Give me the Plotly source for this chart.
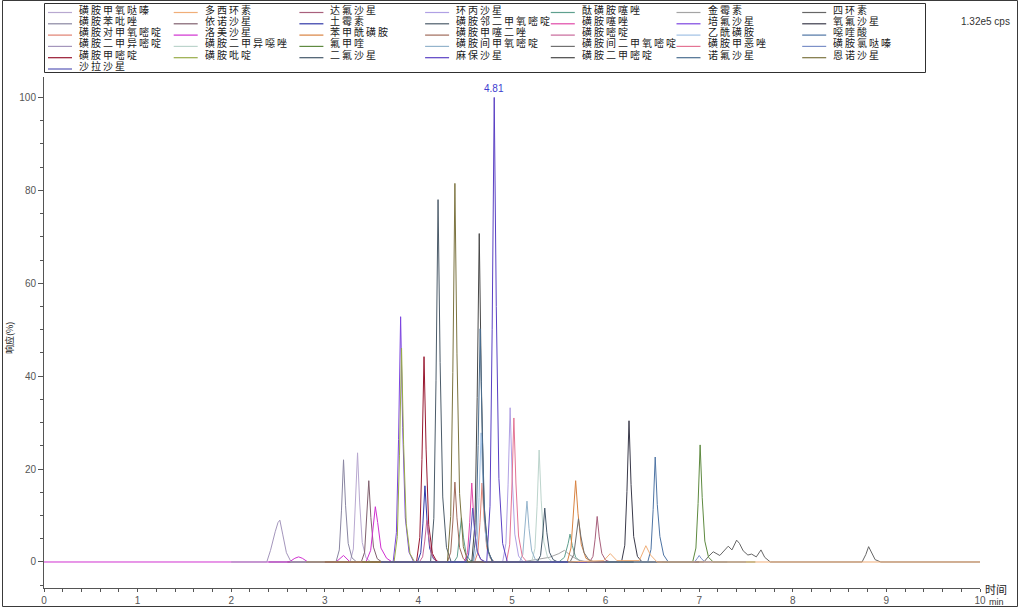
import plotly.graph_objects as go

# ---------------- data ----------------
names = ["磺胺甲氧哒嗪", "多西环素", "达氟沙星", "环丙沙星", "酞磺胺噻唑", "金霉素", "四环素",
         "磺胺苯吡唑", "依诺沙星", "土霉素", "磺胺邻二甲氧嘧啶", "磺胺噻唑", "培氟沙星", "氧氟沙星",
         "磺胺对甲氧嘧啶", "洛美沙星", "苯甲酰磺胺", "磺胺甲噻二唑", "磺胺嘧啶", "乙酰磺胺", "噁喹酸",
         "磺胺二甲异嘧啶", "磺胺二甲异噁唑", "氟甲喹", "磺胺间甲氧嘧啶", "磺胺间二甲氧嘧啶", "磺胺甲恶唑", "磺胺氯哒嗪",
         "磺胺甲嘧啶", "磺胺吡啶", "二氟沙星", "麻保沙星", "磺胺二甲嘧啶", "诺氟沙星", "恩诺沙星",
         "沙拉沙星"]

colors = ["#b8a8d0", "#f0ae78", "#a8607c", "#b0a0e4", "#5fa08f", "#a4a4a4", "#666666",
          "#8a86a2", "#80606e", "#3038a8", "#4c5c6a", "#e048a8", "#7c44e0", "#3a3a4a",
          "#e08070", "#d030d0", "#d88240", "#a06a5a", "#c8689a", "#a0c0e4", "#4e74a4",
          "#a496bc", "#bcd4cc", "#5e8a40", "#94b4cc", "#707070", "#e47494", "#7c90c8",
          "#981830", "#98ac48", "#44586a", "#5a40c4", "#484848", "#4a6e90", "#7c7440",
          "#5858b8"]

t01 = [2.4, 3.27, 3.305, 3.328, 3.35, 3.372, 3.40, 3.44, 3.49, 4.6]
y01 = [0, 0, 2.8, 11.8, 23.5, 12.9, 4.2, 0.9, 0, 0]
t02 = [5.6, 5.98, 6.05, 6.12, 6.36, 6.43, 6.48, 6.55, 10]
y02 = [0, 0.3, 1.8, 0.3, 0.3, 3.5, 1.5, 0, 0]
t03 = [4.6, 5.83, 5.865, 5.888, 5.91, 5.932, 5.96, 6.0, 6.05, 7.0]
y03 = [0, 0, 1.2, 4.9, 9.8, 5.4, 1.8, 0.4, 0, 0]
t04 = [3.8, 4.90, 4.935, 4.958, 4.98, 5.002, 5.03, 5.07, 5.12, 6.2]
y04 = [0, 0, 4.0, 16.6, 33.2, 18.3, 6.0, 1.3, 0, 0]
t05 = [3.6, 4.38, 4.415, 4.438, 4.46, 4.482, 4.51, 4.55, 4.60, 5.50, 5.56, 5.60, 5.62, 5.645, 5.68, 5.74, 6.5]
y05 = [0, 0, 1.1, 4.8, 9.5, 5.2, 1.7, 0.4, 0, 0, 1.0, 4.0, 6.0, 3.5, 1.0, 0, 0]
t06 = [4.6, 5.1, 5.25, 5.4, 5.5, 5.56, 5.62, 5.7, 5.8, 6.5]
y06 = [0, 0, 0.5, 1.0, 1.8, 2.5, 1.5, 0.5, 0, 0]
t07 = [6.6, 7.05, 7.1, 7.15, 7.22, 7.27, 7.31, 7.35, 7.40, 7.43, 7.47, 7.52, 7.56, 7.61, 7.66, 7.70, 7.76,
       8.74, 8.78, 8.81, 8.84, 8.88, 8.94, 10]
y07 = [0, 0, 1.2, 2.2, 1.4, 2.6, 3.4, 2.6, 4.7, 4.0, 2.4, 1.5, 1.7, 1.1, 2.6, 1.0, 0,
       0, 1.6, 3.3, 2.0, 0.5, 0, 0]
t08 = [2.4, 3.12, 3.155, 3.178, 3.20, 3.222, 3.25, 3.29, 3.34, 4.4]
y08 = [0, 0, 2.6, 11.0, 22.0, 12.1, 4.0, 0.9, 0, 0]
t09 = [2.6, 3.39, 3.425, 3.448, 3.47, 3.492, 3.52, 3.56, 3.61, 4.6]
y09 = [0, 0, 2.1, 8.8, 17.5, 9.6, 3.2, 0.7, 0, 0]
t10 = [3.0, 3.99, 4.025, 4.048, 4.07, 4.092, 4.12, 4.16, 4.21, 5.2]
y10 = [0, 0, 2.0, 8.2, 16.4, 9.0, 3.0, 0.7, 0, 0]
t11 = [3.2, 4.13, 4.165, 4.188, 4.21, 4.232, 4.26, 4.30, 4.35, 5.3]
y11 = [0, 0, 9.4, 39.0, 78.0, 42.9, 14.0, 3.1, 0, 0]
t12 = [3.5, 4.49, 4.525, 4.548, 4.57, 4.592, 4.62, 4.66, 4.71, 5.6]
y12 = [0, 0, 2.0, 8.5, 17.0, 9.4, 3.1, 0.7, 0, 0]
t13 = [2.8, 3.73, 3.765, 3.788, 3.81, 3.832, 3.86, 3.90, 3.95, 4.9]
y13 = [0, 0, 6.3, 26.4, 52.8, 29.0, 9.5, 2.1, 0, 0]
t14 = [5.2, 6.17, 6.205, 6.228, 6.25, 6.272, 6.30, 6.34, 6.39, 7.0]
y14 = [0, 0, 3.6, 15.2, 30.4, 16.7, 5.5, 1.2, 0, 0]
t15 = [3.6, 4.60, 4.635, 4.658, 4.68, 4.702, 4.73, 4.77, 4.82, 5.7]
y15 = [0, 0, 2.0, 8.5, 17.0, 9.4, 3.1, 0.7, 0, 0]
t16 = [0, 2.62, 2.68, 2.72, 2.76, 2.82, 3.12, 3.20, 3.27, 3.44, 3.49, 3.52, 3.54, 3.565, 3.60, 3.66, 3.72, 4.4]
y16 = [0, 0, 0.8, 1.1, 0.8, 0, 0, 1.4, 0, 0, 2.5, 8.5, 11.9, 8.5, 3.0, 0.8, 0, 0]
t17 = [4.7, 5.59, 5.63, 5.655, 5.68, 5.705, 5.74, 5.79, 5.86, 6.6]
y17 = [0, 0, 3.0, 10.0, 17.5, 10.5, 3.8, 0.8, 0, 0]
t18 = [3.4, 4.31, 4.345, 4.368, 4.39, 4.412, 4.44, 4.48, 4.53, 5.4]
y18 = [0, 0, 2.1, 8.6, 17.2, 9.5, 3.1, 0.7, 0, 0]
t19 = [3.1, 4.01, 4.045, 4.068, 4.09, 4.112, 4.14, 4.18, 4.23, 5.1]
y19 = [0, 0, 1.1, 4.5, 9.0, 5.0, 1.6, 0.4, 0, 0]
t20 = [3.6, 4.59, 4.625, 4.648, 4.67, 4.692, 4.72, 4.76, 4.81, 5.7]
y20 = [0, 0, 3.3, 13.9, 27.8, 15.3, 5.0, 1.1, 0, 0]
t21 = [5.5, 6.45, 6.485, 6.508, 6.53, 6.552, 6.58, 6.62, 6.67, 7.3]
y21 = [0, 0, 2.7, 11.3, 22.6, 12.4, 5.5, 1.5, 0, 0]
t22 = [2.0, 2.38, 2.42, 2.44, 2.47, 2.50, 2.52, 2.55, 2.59, 2.64, 3.5]
y22 = [0, 0, 2.5, 4.3, 6.5, 8.5, 9.0, 6.0, 2.0, 0, 0]
t23 = [4.3, 5.21, 5.245, 5.268, 5.29, 5.312, 5.34, 5.38, 5.43, 6.3]
y23 = [0, 0, 2.9, 12.0, 24.1, 13.3, 4.3, 1.0, 0, 0]
t24 = [6.0, 6.93, 6.965, 6.988, 7.01, 7.032, 7.06, 7.10, 7.15, 7.6]
y24 = [0, 0, 3.0, 12.6, 25.2, 13.9, 4.5, 1.0, 0, 0]
t25 = [4.2, 5.08, 5.115, 5.138, 5.16, 5.182, 5.21, 5.25, 5.30, 6.2]
y25 = [0, 0, 1.6, 6.6, 13.1, 7.2, 2.4, 0.5, 0, 0]
t26 = [4.7, 5.62, 5.66, 5.685, 5.71, 5.735, 5.77, 5.82, 5.88, 6.6]
y26 = [0, 0, 1.6, 5.3, 9.3, 5.6, 2.0, 0.5, 0, 0]
t27 = [4.0, 4.94, 4.975, 4.998, 5.02, 5.042, 5.07, 5.11, 5.16, 6.0]
y27 = [0, 0, 3.7, 15.5, 31.0, 17.0, 5.6, 1.2, 0, 0]
t28 = [6.0, 6.95, 6.98, 7.0, 7.02, 7.06, 7.5]
y28 = [0, 0, 0.8, 1.4, 0.8, 0, 0]
t29 = [3.0, 3.98, 4.015, 4.038, 4.06, 4.082, 4.11, 4.15, 4.20, 5.1]
y29 = [0, 0, 5.3, 22.1, 44.2, 24.3, 8.0, 1.8, 0, 0]
t30 = [2.8, 3.74, 3.775, 3.798, 3.82, 3.842, 3.87, 3.91, 3.96, 4.9]
y30 = [0, 0, 5.5, 23.0, 46.0, 25.3, 8.3, 1.8, 0, 0]
t31 = [4.3, 5.27, 5.305, 5.328, 5.35, 5.372, 5.40, 5.44, 5.49, 6.3]
y31 = [0, 0, 1.4, 5.8, 11.6, 6.4, 2.1, 0.5, 0, 0]
t32 = [3.8, 4.73, 4.765, 4.788, 4.81, 4.832, 4.86, 4.90, 4.95, 5.8]
y32 = [0, 0, 12.0, 50.0, 100.0, 55.0, 18.0, 4.0, 0, 0]
t33 = [3.6, 4.57, 4.605, 4.628, 4.65, 4.672, 4.70, 4.74, 4.79, 5.7]
y33 = [0, 0, 8.5, 35.4, 70.7, 38.9, 12.7, 2.8, 0, 0]
t34 = [3.6, 4.58, 4.615, 4.638, 4.66, 4.682, 4.71, 4.75, 4.80, 5.7]
y34 = [0, 0, 6.0, 25.1, 50.2, 27.6, 9.0, 2.0, 0, 0]
t35 = [3.4, 4.31, 4.345, 4.368, 4.39, 4.412, 4.44, 4.48, 4.53, 5.4]
y35 = [0, 0, 9.8, 40.8, 81.5, 44.8, 14.7, 3.3, 0, 0]
t36 = [3.6, 4.50, 4.535, 4.558, 4.58, 4.602, 4.63, 4.67, 4.72, 5.6]
y36 = [0, 0, 1.4, 5.8, 11.6, 6.4, 2.1, 0.5, 0, 0]

series_t = [t01, t02, t03, t04, t05, t06, t07, t08, t09, t10, t11, t12, t13, t14, t15, t16, t17, t18,
            t19, t20, t21, t22, t23, t24, t25, t26, t27, t28, t29, t30, t31, t32, t33, t34, t35, t36]
series_y = [y01, y02, y03, y04, y05, y06, y07, y08, y09, y10, y11, y12, y13, y14, y15, y16, y17, y18,
            y19, y20, y21, y22, y23, y24, y25, y26, y27, y28, y29, y30, y31, y32, y33, y34, y35, y36]

apex_label_rt = 4.81
apex_label_value = 100
x_ticks = [0, 1, 2, 3, 4, 5, 6, 7, 8, 9, 10]
y_ticks = [0, 20, 40, 60, 80, 100]
scale_text = "1.32e5 cps"

# ---------------- layout helpers ----------------
W, H = 1020, 608
ML, MR, MT, MB = 44, 40, 77, 20
PW, PH = W - ML - MR, H - MT - MB


def px(xp):
    return (xp - ML) / PW


def py(yp):
    return (H - MB - yp) / PH


fig = go.Figure()
doxy = names.index("多西环素")
order = [i for i in range(len(names)) if i != doxy] + [doxy]
for i in order:
    fig.add_trace(go.Scatter(
        x=series_t[i], y=series_y[i], mode="lines", name=names[i],
        line=dict(color=colors[i], width=1), showlegend=False, hoverinfo="skip"))

shapes = []
annotations = []

# outer frame
shapes.append(dict(type="rect", xref="paper", yref="paper",
                   x0=px(2.5), x1=px(1017.5), y0=py(606.5), y1=py(0.5),
                   line=dict(color="#3a3a3a", width=1)))
# legend box
shapes.append(dict(type="rect", xref="paper", yref="paper",
                   x0=px(44.5), x1=px(925.5), y0=py(72.5), y1=py(3.5),
                   line=dict(color="#303030", width=1), fillcolor="white", layer="above"))

cjk = "Noto Sans CJK SC"
for i, nm in enumerate(names):
    col, row = i % 7, i // 7
    x0 = 48 + 125.7 * col
    ly = 12.5 + 11.3 * row
    shapes.append(dict(type="line", xref="paper", yref="paper",
                       x0=px(x0), x1=px(x0 + 24), y0=py(ly), y1=py(ly),
                       line=dict(color=colors[i], width=1.2), layer="above"))
    annotations.append(dict(xref="paper", yref="paper", x=px(x0 + 29), y=py(ly - 3.5),
                            xanchor="left", yanchor="middle", showarrow=False,
                            text=f'<span style="letter-spacing:2px">{nm}</span>',
                            font=dict(family=cjk, size=10, color="#202020")))

annotations.append(dict(x=apex_label_rt, y=apex_label_value, xref="x", yref="y",
                        text=f"{apex_label_rt:.2f}", showarrow=False, yanchor="bottom", yshift=1,
                        font=dict(family="Arial", size=10, color="#3c3cd0")))
annotations.append(dict(xref="paper", yref="paper", x=px(985), y=py(21), text=scale_text,
                        showarrow=False, xanchor="center", yanchor="middle",
                        font=dict(family="Arial", size=10, color="#333333")))
annotations.append(dict(xref="paper", yref="paper", x=px(996), y=py(589), text="时间",
                        showarrow=False, xanchor="center", yanchor="middle",
                        font=dict(family=cjk, size=11, color="#222222")))
annotations.append(dict(xref="paper", yref="paper", x=px(997), y=py(601.5), text="min",
                        showarrow=False, xanchor="center", yanchor="middle",
                        font=dict(family="Arial", size=9, color="#333333")))
annotations.append(dict(xref="paper", yref="paper", x=px(9), y=py(338), text="响应(%)",
                        showarrow=False, textangle=-90, xanchor="center", yanchor="middle",
                        font=dict(family=cjk, size=9, color="#222222")))

axis_common = dict(showline=True, linecolor="#555555", linewidth=1, ticks="outside",
                   tickcolor="#555555", showgrid=False, zeroline=False, automargin=False,
                   tickfont=dict(family="Arial", size=10, color="#555555"))

fig.update_layout(
    width=W, height=H,
    margin=dict(l=ML, r=MR, t=MT, b=MB, pad=0, autoexpand=False),
    paper_bgcolor="white", plot_bgcolor="white",
    showlegend=False,
    shapes=shapes, annotations=annotations,
    xaxis=dict(range=[0, 10], tickvals=x_ticks, ticklen=3,
               minor=dict(dtick=0.2, ticks="outside", ticklen=3, tickcolor="#555555"),
               **axis_common),
    yaxis=dict(range=[-5.6, 104.4], tickvals=y_ticks, ticklen=5,
               minor=dict(dtick=5, tick0=0, ticks="outside", ticklen=3, tickcolor="#555555"),
               **axis_common),
)

fig.write_html("out.html", config={"displayModeBar": False},
               post_script="document.body.style.margin='0px';")
